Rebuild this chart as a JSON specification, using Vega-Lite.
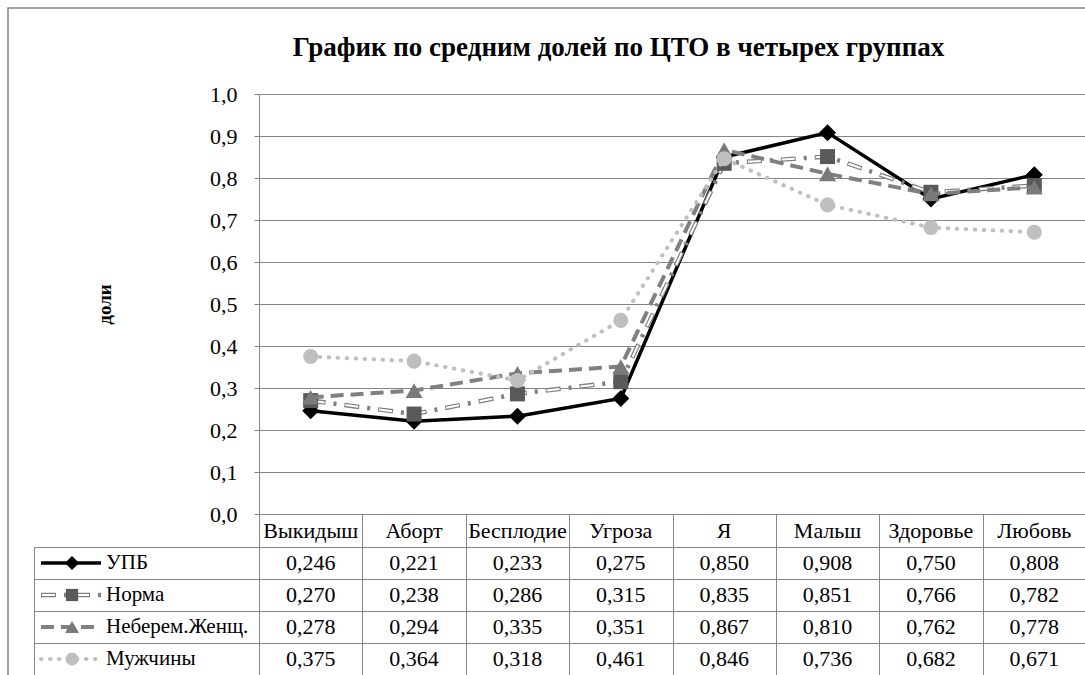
{
  "$schema": "https://vega.github.io/schema/vega-lite/v6.json",
  "padding": {"left": 7, "top": 7, "right": 0, "bottom": 0},
  "background": "white",
  "spacing": 0,
  "bounds": "flush",
  "columns": 3,
  "config": {
    "font": "Liberation Serif",
    "text": {"font": "Liberation Serif"},
    "view": {"stroke": null},
    "axis": {"labelFont": "Liberation Serif", "titleFont": "Liberation Serif", "labelColor": "#000000", "titleColor": "#000000", "gridColor": "#868686", "domainColor": "#868686", "tickColor": "#868686"}
  },
  "datasets": {
    "main": [
      {"c": "Выкидыш", "s": "УПБ", "v": 0.246},
      {"c": "Аборт", "s": "УПБ", "v": 0.221},
      {"c": "Бесплодие", "s": "УПБ", "v": 0.233},
      {"c": "Угроза", "s": "УПБ", "v": 0.275},
      {"c": "Я", "s": "УПБ", "v": 0.850},
      {"c": "Мальш", "s": "УПБ", "v": 0.908},
      {"c": "Здоровье", "s": "УПБ", "v": 0.750},
      {"c": "Любовь", "s": "УПБ", "v": 0.808},
      {"c": "Выкидыш", "s": "Норма", "v": 0.270},
      {"c": "Аборт", "s": "Норма", "v": 0.238},
      {"c": "Бесплодие", "s": "Норма", "v": 0.286},
      {"c": "Угроза", "s": "Норма", "v": 0.315},
      {"c": "Я", "s": "Норма", "v": 0.835},
      {"c": "Мальш", "s": "Норма", "v": 0.851},
      {"c": "Здоровье", "s": "Норма", "v": 0.766},
      {"c": "Любовь", "s": "Норма", "v": 0.782},
      {"c": "Выкидыш", "s": "Неберем.Женщ.", "v": 0.278},
      {"c": "Аборт", "s": "Неберем.Женщ.", "v": 0.294},
      {"c": "Бесплодие", "s": "Неберем.Женщ.", "v": 0.335},
      {"c": "Угроза", "s": "Неберем.Женщ.", "v": 0.351},
      {"c": "Я", "s": "Неберем.Женщ.", "v": 0.867},
      {"c": "Мальш", "s": "Неберем.Женщ.", "v": 0.810},
      {"c": "Здоровье", "s": "Неберем.Женщ.", "v": 0.762},
      {"c": "Любовь", "s": "Неберем.Женщ.", "v": 0.778},
      {"c": "Выкидыш", "s": "Мужчины", "v": 0.375},
      {"c": "Аборт", "s": "Мужчины", "v": 0.364},
      {"c": "Бесплодие", "s": "Мужчины", "v": 0.318},
      {"c": "Угроза", "s": "Мужчины", "v": 0.461},
      {"c": "Я", "s": "Мужчины", "v": 0.846},
      {"c": "Мальш", "s": "Мужчины", "v": 0.736},
      {"c": "Здоровье", "s": "Мужчины", "v": 0.682},
      {"c": "Любовь", "s": "Мужчины", "v": 0.671}
    ],
    "titleText": [{"t": "График по средним долей по ЦТО в четырех группах"}],
    "blank": [{"b": ""}]
  },
  "concat": [
    {
      "width": 26, "height": 86,
      "view": {"stroke": "#868686", "strokeWidth": 1.5, "strokeDash": [26, 112, 86]},
      "data": {"name": "blank"}, "mark": "text", "encoding": {"text": {"field": "b"}}
    },
    {
      "width": 225, "height": 86,
      "view": {"stroke": "#868686", "strokeWidth": 1.5, "strokeDash": [225, 1000]},
      "data": {"name": "blank"}, "mark": "text", "encoding": {"text": {"field": "b"}}
    },
    {
      "width": 827, "height": 86,
      "view": {"stroke": "#868686", "strokeWidth": 1.5, "strokeDash": [827, 2000]},
      "data": {"name": "titleText"},
      "mark": {"type": "text", "font": "Liberation Serif", "fontSize": 27, "fontWeight": "bold", "baseline": "alphabetic", "dx": -54, "dy": 5, "color": "#000000"},
      "encoding": {"text": {"field": "t"}}
    },
    {
      "width": 26, "height": 420,
      "view": {"stroke": "#868686", "strokeWidth": 1.5, "strokeDash": [0, 472, 420]},
      "data": {"name": "blank"}, "mark": "text", "encoding": {"text": {"field": "b"}}
    },
    {
      "width": 225, "height": 420,
      "data": {"name": "blank"}, "mark": "text", "encoding": {"text": {"field": "b"}}
    },
    {
      "width": 827, "height": 420,
      "data": {"name": "main"},
      "encoding": {
        "x": {"field": "c", "type": "nominal", "sort": ["Выкидыш", "Аборт", "Бесплодие", "Угроза", "Я", "Мальш", "Здоровье", "Любовь"], "scale": {"type": "point", "padding": 0.5}, "axis": null},
        "y": {"field": "v", "type": "quantitative", "scale": {"domain": [0, 1], "nice": false},
          "axis": {"values": [0, 0.1, 0.2, 0.3, 0.4, 0.5, 0.6, 0.7, 0.8, 0.9, 1.0], "labelExpr": "replace(format(datum.value, '.1f'), '.', ',')", "grid": true, "gridWidth": 1, "tickSize": 5, "labelPadding": 17, "labelFontSize": 22, "title": "доли", "titleFontSize": 19, "titleFontWeight": "bold", "titleX": -155, "titleY": 210, "titleAngle": -90, "titleAlign": "center", "titleBaseline": "middle"}}
      },
      "layer": [
        {"transform": [{"filter": "datum.s == 'УПБ'"}], "mark": {"type": "line", "color": "#000000", "strokeWidth": 3.5}},
        {"transform": [{"filter": "datum.s == 'УПБ'"}], "mark": {"type": "point", "shape": "diamond", "filled": true, "color": "#000000", "size": 289, "opacity": 1}},
        {"transform": [{"filter": "datum.s == 'Норма'"}], "mark": {"type": "line", "color": "#7f7f7f", "strokeWidth": 4.5, "strokeDash": [15, 8, 3, 8]}},
        {"transform": [{"filter": "datum.s == 'Норма'"}], "mark": {"type": "line", "color": "#ffffff", "strokeWidth": 2, "strokeDash": [13, 21], "strokeDashOffset": 33}},
        {"transform": [{"filter": "datum.s == 'Норма'"}], "mark": {"type": "point", "shape": "square", "filled": true, "color": "#595959", "size": 225, "opacity": 1}},
        {"transform": [{"filter": "datum.s == 'Неберем.Женщ.'"}], "mark": {"type": "line", "color": "#808080", "strokeWidth": 4, "strokeDash": [13, 7]}},
        {"transform": [{"filter": "datum.s == 'Неберем.Женщ.'"}], "mark": {"type": "point", "shape": "triangle-up", "filled": true, "color": "#7a7a7a", "size": 289, "opacity": 1}},
        {"transform": [{"filter": "datum.s == 'Мужчины'"}], "mark": {"type": "line", "color": "#bfbfbf", "strokeWidth": 4, "strokeCap": "round", "strokeDash": [0.5, 8.5]}},
        {"transform": [{"filter": "datum.s == 'Мужчины'"}], "mark": {"type": "point", "shape": "circle", "filled": true, "color": "#bfbfbf", "size": 227, "opacity": 1}}
      ]
    },
    {
      "width": 26, "height": 33,
      "view": {"stroke": "#868686", "strokeWidth": 1.5, "strokeDash": [0, 85, 33]},
      "data": {"name": "blank"}, "mark": "text", "encoding": {"text": {"field": "b"}}
    },
    {
      "width": 225, "height": 33,
      "data": {"name": "blank"}, "mark": "text", "encoding": {"text": {"field": "b"}}
    },
    {
      "width": 827, "height": 33,
      "view": {"stroke": "#868686"},
      "data": {"name": "main"},
      "transform": [{"filter": "datum.s == 'УПБ'"}],
      "mark": {"type": "text", "font": "Liberation Serif", "fontSize": 22, "color": "#000000"},
      "encoding": {
        "x": {"field": "c", "type": "nominal", "sort": ["Выкидыш", "Аборт", "Бесплодие", "Угроза", "Я", "Мальш", "Здоровье", "Любовь"], "scale": {"type": "band", "paddingInner": 0, "paddingOuter": 0},
          "axis": {"grid": true, "tickBand": "extent", "labels": false, "ticks": false, "domain": false, "title": null}},
        "text": {"field": "c"}
      }
    },
    {
      "width": 26, "height": 128,
      "view": {"stroke": "#868686", "strokeWidth": 1.5, "strokeDash": [0, 180, 128]},
      "data": {"name": "blank"}, "mark": "text", "encoding": {"text": {"field": "b"}}
    },
    {
      "width": 225, "height": 128,
      "view": {"stroke": "#868686"},
      "data": {"name": "main"},
      "transform": [{"filter": "datum.c == 'Выкидыш'"}],
      "encoding": {
        "y": {"field": "s", "type": "nominal", "sort": ["УПБ", "Норма", "Неберем.Женщ.", "Мужчины"], "scale": {"type": "band", "paddingInner": 0, "paddingOuter": 0},
          "axis": {"grid": true, "tickBand": "extent", "labels": false, "ticks": false, "domain": false, "title": null}}
      },
      "layer": [
        {"transform": [{"filter": "datum.s == 'УПБ'"}], "mark": {"type": "rule", "color": "#000000", "strokeWidth": 3.5},
          "encoding": {"x": {"datum": 0.031, "type": "quantitative", "scale": {"domain": [0, 1]}, "axis": null}, "x2": {"datum": 0.298}}},
        {"transform": [{"filter": "datum.s == 'УПБ'"}], "mark": {"type": "point", "shape": "diamond", "filled": true, "color": "#000000", "size": 200, "opacity": 1},
          "encoding": {"x": {"datum": 0.169, "type": "quantitative", "scale": {"domain": [0, 1]}, "axis": null}}},
        {"transform": [{"filter": "datum.s == 'Норма'"}], "mark": {"type": "rule", "color": "#7f7f7f", "strokeWidth": 4.5, "strokeDash": [15, 8, 3, 8]},
          "encoding": {"x": {"datum": 0.031, "type": "quantitative", "scale": {"domain": [0, 1]}, "axis": null}, "x2": {"datum": 0.298}}},
        {"transform": [{"filter": "datum.s == 'Норма'"}], "mark": {"type": "rule", "color": "#ffffff", "strokeWidth": 2, "strokeDash": [13, 21], "strokeDashOffset": 33},
          "encoding": {"x": {"datum": 0.031, "type": "quantitative", "scale": {"domain": [0, 1]}, "axis": null}, "x2": {"datum": 0.298}}},
        {"transform": [{"filter": "datum.s == 'Норма'"}], "mark": {"type": "point", "shape": "square", "filled": true, "color": "#595959", "size": 150, "opacity": 1},
          "encoding": {"x": {"datum": 0.169, "type": "quantitative", "scale": {"domain": [0, 1]}, "axis": null}}},
        {"transform": [{"filter": "datum.s == 'Неберем.Женщ.'"}], "mark": {"type": "rule", "color": "#808080", "strokeWidth": 4, "strokeDash": [13, 7]},
          "encoding": {"x": {"datum": 0.031, "type": "quantitative", "scale": {"domain": [0, 1]}, "axis": null}, "x2": {"datum": 0.298}}},
        {"transform": [{"filter": "datum.s == 'Неберем.Женщ.'"}], "mark": {"type": "point", "shape": "triangle-up", "filled": true, "color": "#7a7a7a", "size": 200, "opacity": 1},
          "encoding": {"x": {"datum": 0.169, "type": "quantitative", "scale": {"domain": [0, 1]}, "axis": null}}},
        {"transform": [{"filter": "datum.s == 'Мужчины'"}], "mark": {"type": "rule", "color": "#bfbfbf", "strokeWidth": 4, "strokeCap": "round", "strokeDash": [0.5, 8.5]},
          "encoding": {"x": {"datum": 0.031, "type": "quantitative", "scale": {"domain": [0, 1]}, "axis": null}, "x2": {"datum": 0.298}}},
        {"transform": [{"filter": "datum.s == 'Мужчины'"}], "mark": {"type": "point", "shape": "circle", "filled": true, "color": "#bfbfbf", "size": 170, "opacity": 1},
          "encoding": {"x": {"datum": 0.169, "type": "quantitative", "scale": {"domain": [0, 1]}, "axis": null}}},
        {"mark": {"type": "text", "font": "Liberation Serif", "align": "left", "baseline": "middle", "fontSize": 21, "color": "#000000"},
          "encoding": {"x": {"datum": 0.32, "type": "quantitative", "scale": {"domain": [0, 1]}, "axis": null}, "text": {"field": "s"}}}
      ]
    },
    {
      "width": 827, "height": 128,
      "view": {"stroke": "#868686"},
      "data": {"name": "main"},
      "transform": [{"calculate": "replace(format(datum.v, '.3f'), '.', ',')", "as": "lab"}],
      "mark": {"type": "text", "font": "Liberation Serif", "fontSize": 22, "color": "#000000"},
      "encoding": {
        "x": {"field": "c", "type": "nominal", "sort": ["Выкидыш", "Аборт", "Бесплодие", "Угроза", "Я", "Мальш", "Здоровье", "Любовь"], "scale": {"type": "band", "paddingInner": 0, "paddingOuter": 0},
          "axis": {"grid": true, "tickBand": "extent", "labels": false, "ticks": false, "domain": false, "title": null}},
        "y": {"field": "s", "type": "nominal", "sort": ["УПБ", "Норма", "Неберем.Женщ.", "Мужчины"], "scale": {"type": "band", "paddingInner": 0, "paddingOuter": 0},
          "axis": {"grid": true, "tickBand": "extent", "labels": false, "ticks": false, "domain": false, "title": null}},
        "text": {"field": "lab"}
      }
    }
  ]
}
